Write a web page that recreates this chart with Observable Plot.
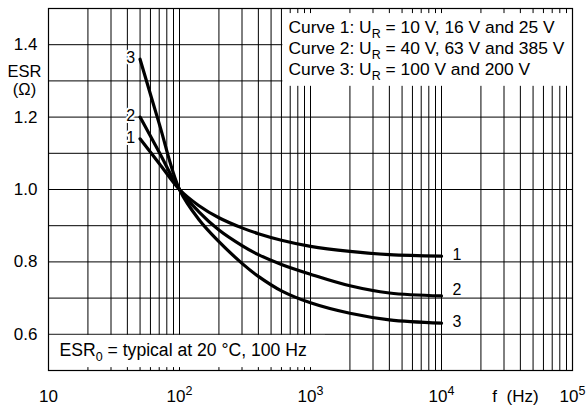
<!DOCTYPE html>
<html><head><meta charset="utf-8">
<script src="https://cdn.jsdelivr.net/npm/d3@7"></script>
<script src="https://cdn.jsdelivr.net/npm/@observablehq/plot@0.6"></script>
<style>body{margin:0;background:#fff} svg{display:block}</style>
</head><body><div id="chart"></div><script>
// ---- data ----
const freqHz    = [50,   70,    100, 140,   200,   300,   400,   600,   1000,  2000,  4000,  10000];
const esrCurve1 = [1.14, 1.072, 1.0, 0.956, 0.922, 0.894, 0.878, 0.860, 0.843, 0.829, 0.820, 0.816];
const esrCurve2 = [1.20, 1.103, 1.0, 0.939, 0.888, 0.845, 0.820, 0.793, 0.766, 0.734, 0.714, 0.706];
const esrCurve3 = [1.36, 1.182, 1.0, 0.918, 0.856, 0.796, 0.760, 0.720, 0.687, 0.658, 0.640, 0.631];
const curveNames = ["1", "2", "3"];
const legendLines = [
  "Curve 1: U_R = 10 V, 16 V and 25 V",
  "Curve 2: U_R = 40 V, 63 V and 385 V",
  "Curve 3: U_R = 100 V and 200 V"
];
const noteText = "ESR_0 = typical at 20 °C, 100 Hz";
const xTickValues = [10, 100, 1000, 10000, 100000];
const xTickLabels = ["10", "10^2", "10^3", "10^4", "10^5"];
const yTickValues = [0.6, 0.8, 1.0, 1.2, 1.4];
const yTickLabels = ["0.6", "0.8", "1.0", "1.2", "1.4"];
const yAxisLabel = "ESR\n(Ω)";
const xAxisLabel = "f \u00a0(Hz)";

// ---- derived tables ----
const series = [esrCurve1, esrCurve2, esrCurve3];
const rows = series.flatMap((vals, k) => freqHz.map((f, i) => ({f, esr: vals[i], curve: curveNames[k]})));
const starts = series.map((vals, k) => ({f: freqHz[0], esr: vals[0], curve: curveNames[k]}));
const ends = series.map((vals, k) => ({f: freqHz[freqHz.length - 1], esr: vals[vals.length - 1], curve: curveNames[k]}));
const xGrid = [10, 100, 1000, 10000].flatMap(d => [1,2,3,4,5,6,7,8,9].map(m => d * m)).concat([100000]);
const yGrid = d3.range(5, 16).map(v => v / 10);

const FONT = "'Liberation Sans', Arial, Helvetica, sans-serif";

const plot = Plot.plot({
  width: 588, height: 411,
  marginLeft: 48, marginRight: 16, marginTop: 8, marginBottom: 41,
  style: {fontFamily: FONT, fontSize: "17px", background: "white", color: "black"},
  x: {type: "log", domain: [10, 100000], axis: null},
  y: {domain: [0.5, 1.5], axis: null},
  marks: [
    Plot.ruleX(xGrid, {stroke: "black", strokeWidth: 1}),
    Plot.ruleY(yGrid, {stroke: "black", strokeWidth: 1}),
    // legend & note boxes (white, hide grid)
    Plot.rect([0], {x1: 615, x2: 100000, y1: 1.285, y2: 1.486, fill: "white"}),
    Plot.rect([0], {x1: 10, x2: 1300, y1: 0.508, y2: 0.597, fill: "white"}),
    Plot.frame({stroke: "black", strokeWidth: 1.2}),
    Plot.line(rows, {x: "f", y: "esr", z: "curve", stroke: "black", strokeWidth: 3.2, curve: "catmull-rom"}),
    // curve numbers
    Plot.text(starts, {x: "f", y: "esr", text: "curve", dx: -5, dy: -1, textAnchor: "end", fontSize: 16,
      stroke: "white", strokeWidth: 4, fill: "black", paintOrder: "stroke"}),
    Plot.text(ends.filter(d => d.curve !== "2"), {x: "f", y: "esr", text: "curve", dx: 11, dy: -1, textAnchor: "start", fontSize: 16}),
    Plot.text(ends.filter(d => d.curve === "2"), {x: "f", y: "esr", text: "curve", dx: 11, dy: -6, textAnchor: "start", fontSize: 16}),
    // legend
    Plot.text(legendLines, {x: 680, y: (d, i) => 1.448 - i * 0.058, text: d => d, textAnchor: "start", fontSize: 17.4}),
    // note
    Plot.text([noteText], {frameAnchor: "bottom-left", dx: 11, dy: -15, text: d => d, textAnchor: "start", fontSize: 17.6}),
    // y tick labels
    Plot.text(yTickValues, {y: d => d, frameAnchor: "left", dx: -11, text: (d, i) => yTickLabels[i], textAnchor: "end", fontSize: 17}),
    // x tick labels
    Plot.text(xTickValues, {x: d => d, frameAnchor: "bottom", dy: 31, text: (d, i) => xTickLabels[i], textAnchor: "middle", fontSize: 17}),
    // axis labels
    Plot.text([yAxisLabel], {frameAnchor: "top-left", dx: -24, dy: 72, text: d => d, textAnchor: "middle", lineAnchor: "middle", lineHeight: 1.08, fontSize: 16.5}),
    Plot.text([xAxisLabel], {frameAnchor: "bottom-right", dx: -57, dy: 31, text: d => d, textAnchor: "middle", fontSize: 17})
  ]
});

// sub/superscript markup: _X -> subscript, ^X -> superscript
d3.select(plot).selectAll("text").each(function() {
  if (this.querySelector("tspan")) return;
  const s = this.textContent;
  if (!/[_^]\w/.test(s)) return;
  const parts = s.split(/([_^]\w)/).filter(p => p);
  this.textContent = "";
  let shift = 0;
  for (const p of parts) {
    const ts = d3.select(this).append("tspan");
    if (p.length === 2 && (p[0] === "_" || p[0] === "^")) {
      const target = p[0] === "_" ? 5 : -7;
      ts.attr("dy", target - shift).attr("font-size", 12.5).text(p[1]);
      shift = target;
    } else {
      ts.attr("dy", -shift).text(p);
      shift = 0;
    }
  }
});

document.getElementById("chart").appendChild(plot);
</script></body></html>
